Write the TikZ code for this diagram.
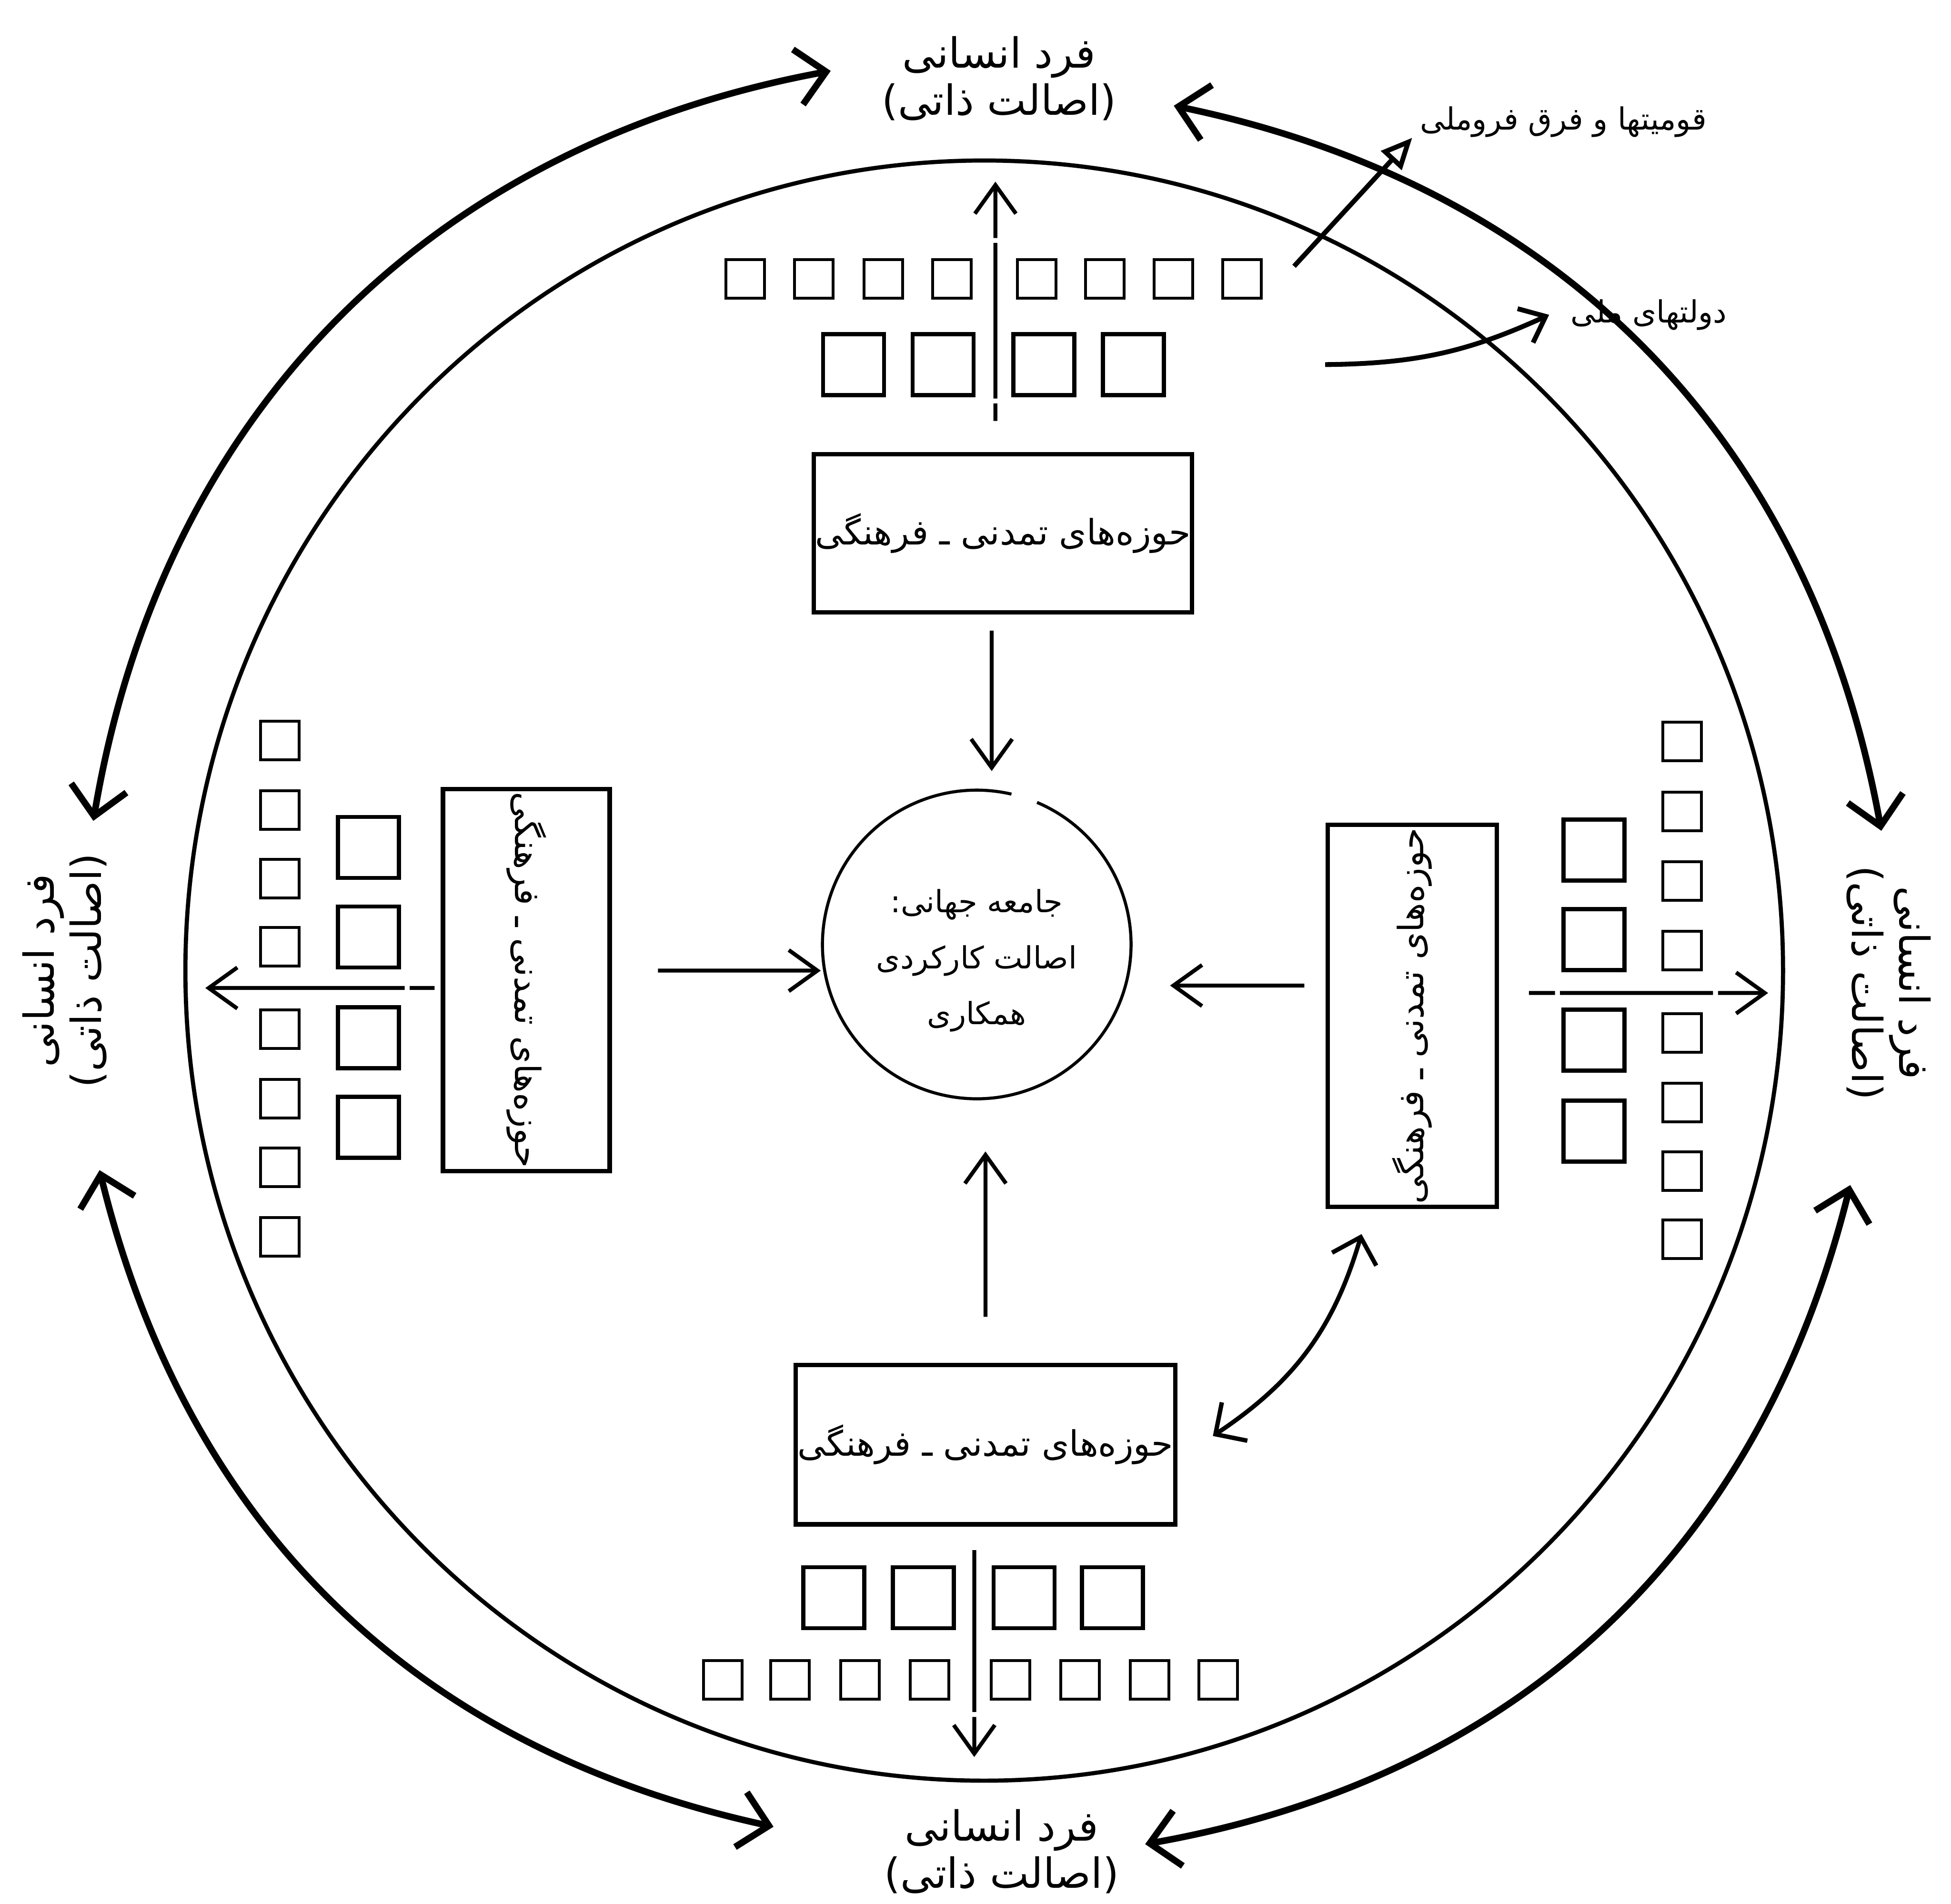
\documentclass[tikz,border=0pt]{standalone}
\usepackage{fontspec}
\newfontfamily\fa[Script=Arabic]{DejaVu Sans}
\TeXXeTstate=1
\usetikzlibrary{arrows.meta, positioning, calc}

\newcommand\zonefont{\fa\fontsize{16}{20}\selectfont}
\newcommand\personfont{\fa\fontsize{19}{21.6}\selectfont}
\newcommand\societyfont{\fa\fontsize{14}{25.6}\selectfont}
\newcommand\notefont{\fa\fontsize{14}{17}\selectfont}
\newcommand\zonetext{\beginR حوزه^^^^200cهای تمدنی ـ فرهنگی\endR}
\newcommand\persontext{\beginR فرد انسانی\endR\\)\beginR اصالت ذاتی\endR(}

\begin{document}
\begin{tikzpicture}[
  x=0.2mm, y=0.2mm,
  zone/.style={draw, line width=2pt, inner sep=0pt, font=\zonefont},
  society/.style={circle, inner sep=0pt, minimum size=49.6mm},
  society text/.style={inner sep=0pt, align=center, font=\societyfont},
  person/.style={inner sep=0pt, minimum width=55mm, minimum height=16mm, align=center, font=\personfont},
  note/.style={inner sep=0pt, anchor=west, font=\notefont},
  cell/.style={draw, line width=1.3pt, minimum size=6.2mm, inner sep=0pt},
  bigcell/.style={draw, line width=1.9pt, minimum size=9.8mm, inner sep=0pt},
  flow/.style={->, >={Straight Barb[length=4.6mm, width=6.6mm]}, line width=1.8pt},
  ray/.style={flow},
  bond/.style={<->, >={Straight Barb[length=4.6mm, width=9mm]}, line width=3pt},
  link/.style={<->, >={Straight Barb[length=3.7mm, width=7.4mm]}, line width=2pt},
  hint/.style={line width=2.2pt}
]
  \useasboundingbox (0,0) rectangle (1568,1530);
  \fill[white] (0,0) rectangle (1568,1530);

  % outer ring
  \draw[line width=1.9pt] (791,750) ellipse [x radius=642, y radius=651];

  % civilisational zones
  \node[zone, minimum width=60.8mm, minimum height=25.4mm] (boxN) at (806,1101.5) {\zonetext};
  \node[zone, minimum width=61mm, minimum height=25.6mm] (boxS) at (792,369) {\zonetext};
  \node[zone, rotate=-90, minimum width=61.4mm, minimum height=26.8mm] (boxW) at (423,742.5) {\zonetext};
  \node[zone, rotate=90, minimum width=61.4mm, minimum height=27.2mm] (boxE) at (1135,713.5) {\zonetext};

  % world society
  \node[society] (world) at (785,771) {};
  \draw[line width=1.4pt] ([shift={(77:124)}]world.center) arc[start angle=77, end angle=427, radius=124];
  \node[society text] (worldText) at ([yshift=-2.6mm]world.center) {:\beginR جامعه جهانی\endR\\\beginR اصالت کارکردی\endR\\\beginR همکاری\endR};

  % individuals
  \node[person, minimum width=55.2mm] (indN) at (803,1467) {\persontext};
  \node[person, minimum width=54mm] (indS) at (805,42) {\persontext};
  \node[person, rotate=90, minimum width=56mm] (indW) at (52,750) {\persontext};
  \node[person, rotate=-90, minimum width=56mm] (indE) at (1518,740) {\persontext};

  % states and sub-national groups
  \foreach \x [count=\i] in {599,654,710,765,833,888,943,998}
    \node[cell] (cN\i) at (\x,1306) {};
  \foreach \x [count=\i] in {686,758,839,911}
    \node[bigcell] (bN\i) at (\x,1237) {};
  \foreach \x [count=\i] in {581,635,691,747,812,868,924,979}
    \node[cell] (cS\i) at (\x,180) {};
  \foreach \x [count=\i] in {670,742,823,894}
    \node[bigcell] (bS\i) at (\x,246) {};
  \foreach \y [count=\i] in {935,879,824,769,703,647,592,536}
    \node[cell] (cW\i) at (225,\y) {};
  \foreach \y [count=\i] in {849,777,696,624}
    \node[bigcell] (bW\i) at (296,\y) {};
  \foreach \y [count=\i] in {934,878,822,766,700,644,589,534}
    \node[cell] (cE\i) at (1352,\y) {};
  \foreach \y [count=\i] in {847,775,694,621}
    \node[bigcell] (bE\i) at (1281,\y) {};

  % zones feed the world society
  \draw[flow] ([xshift=-1.8mm, yshift=-2.6mm]boxN.south) -- ([xshift=2.4mm, yshift=3mm]world.north);
  \draw[flow] ([xshift=7.4mm, yshift=1.5mm]boxW.north) -- ([xshift=-0.2mm, yshift=-4.2mm]world.west);
  \draw[flow] ([xshift=-3.4mm, yshift=4.9mm]boxE.north) -- ([xshift=6.2mm, yshift=-6.6mm]world.east);
  \draw[flow] ([yshift=7.4mm]boxS.north) -- ([xshift=1.4mm, yshift=-8.4mm]world.south);

  % zones reach outwards
  \coordinate (endN) at (800,1384);
  \coordinate (endW) at (165,736);
  \coordinate (endE) at (1421,732);
  \coordinate (endS) at (783,118);
  \draw[ray, dash pattern=on 2.8mm off 0.8mm on 25mm off 0.8mm on 30mm] ([xshift=-1.2mm, yshift=5mm]boxN.north) -- (endN);
  \draw[ray, dash pattern=on 4mm off 0.8mm on 40mm] ([xshift=-1mm, yshift=-1.3mm]boxW.south) -- (endW);
  \draw[ray, dash pattern=on 4.2mm off 0.8mm on 24.6mm off 0.8mm on 20mm] ([xshift=4.8mm, yshift=3.7mm]boxE.south) -- (endE);
  \draw[ray, dash pattern=on 26mm off 0.8mm on 20mm] ([xshift=-1.8mm, yshift=-3.8mm]boxS.south) -- (endS);

  % zone to zone
  \draw[link] ([xshift=5.7mm, yshift=1.4mm]boxS.east) to[bend right=20] ([xshift=5.8mm, yshift=-4mm]boxE.north west);

  % individual to individual
  \draw[bond] ([shift={(0.6mm,1.2mm)}]indN.west) to[bend right=35] ([shift={(4.6mm,-4mm)}]indW.east);
  \draw[bond] ([shift={(0.4mm,-4.4mm)}]indN.east) to[bend left=34] ([shift={(-1.2mm,-3.6mm)}]indE.west);
  \draw[bond] ([shift={(-4mm,1.2mm)}]indS.east) to[bend right=33] ([shift={(-6.2mm,-4.4mm)}]indE.east);
  \draw[bond] ([shift={(5.6mm,-4mm)}]indW.west) to[bend right=32] ([shift={(-9.6mm,4mm)}]indS.west);

  % side notes
  \node[note] (ethnic) at (1141,1432) {\beginR قومیتها و فرق فروملی\endR};
  \node[note] (nation) at (1262,1277) {\beginR دولتهای ملی\endR};
  \coordinate (ethFoot) at (1040,1316);
  \coordinate (natFoot) at (1065,1237);
  \draw[hint, -{Triangle[open, length=5mm, width=4.4mm]}] (ethFoot) -- ([xshift=-1.2mm]ethnic.south west);
  \draw[hint, -{Straight Barb[length=3.6mm, width=6mm]}] (natFoot) to[bend right=12] ([xshift=-3.4mm]nation.west);
\end{tikzpicture}
\end{document}
